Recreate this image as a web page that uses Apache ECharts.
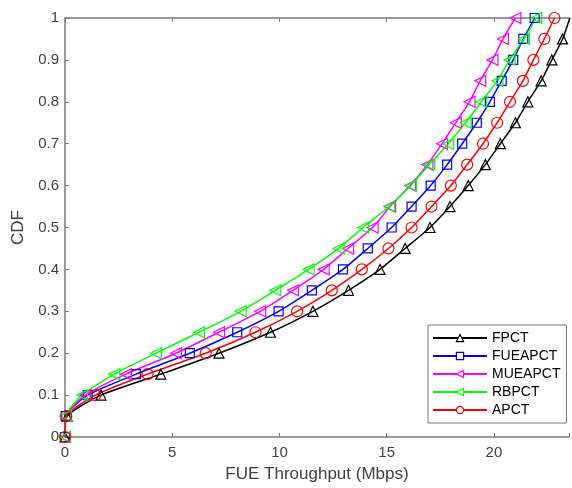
<!DOCTYPE html>
<html>
<head>
<meta charset="utf-8">
<script src="https://cdn.jsdelivr.net/npm/echarts@6/dist/echarts.min.js"></script>
<style>
  html, body { margin: 0; padding: 0; background: #fff; }
  #chart { width: 572px; height: 488px; }
</style>
</head>
<body>
<div id="chart"></div>
<script>
// CDF levels shared by every curve
var cdf = [0, 0.05, 0.1, 0.15, 0.2, 0.25, 0.3, 0.35, 0.4, 0.45, 0.5,
           0.55, 0.6, 0.65, 0.7, 0.75, 0.8, 0.85, 0.9, 0.95, 1];

// throughput (Mbps) for each CDF level
var fpct    = [0, 0.1, 1.68, 4.47, 7.18, 9.58, 11.56, 13.22, 14.69, 15.86, 17.02,
               17.95, 18.8, 19.6, 20.3, 21.0, 21.58, 22.2, 22.7, 23.2, 23.54];
var fueapct = [0, 0.03, 1.06, 3.31, 5.82, 8.03, 9.96, 11.51, 12.96, 14.12, 15.23,
               16.16, 17.05, 17.82, 18.52, 19.2, 19.81, 20.36, 20.9, 21.37, 21.9];
var mueapct = [0, 0.03, 0.95, 2.84, 5.17, 7.18, 9.1, 10.63, 12.06, 13.2, 14.34,
               15.16, 16.09, 16.9, 17.58, 18.22, 18.86, 19.36, 19.93, 20.42, 21.0];
var rbpct   = [0, 0.03, 0.8, 2.3, 4.24, 6.25, 8.19, 9.81, 11.36, 12.76, 13.9,
               15.11, 16.13, 16.98, 17.87, 18.68, 19.41, 20.16, 20.73, 21.4, 21.97];
var apct    = [0, 0.06, 1.42, 3.85, 6.56, 8.88, 10.82, 12.44, 13.84, 15.08, 16.16,
               17.09, 17.99, 18.75, 19.49, 20.15, 20.75, 21.35, 21.84, 22.35, 22.82];

var xTicks = [0, 5, 10, 15, 20];

function pairs(xs) {
    var out = [];
    for (var i = 0; i < xs.length; i++) {
        out.push([xs[i], cdf[i]]);
    }
    return out;
}

function makeSeries(name, xs, color, symbol, size, rotate) {
    return {
        name: name,
        type: 'line',
        data: pairs(xs),
        smooth: 0.2,
        symbol: symbol,
        symbolSize: size,
        symbolRotate: rotate || 0,
        showAllSymbol: true,
        lineStyle: { color: color, width: 1.5 },
        itemStyle: { color: 'rgba(255,255,255,0)', borderColor: color, borderWidth: 1.2 },
        emphasis: { disabled: true }
    };
}

var axisGrey = '#7a7a7a';
var labelGrey = '#404040';
var font = 'Liberation Sans, Arial, sans-serif';

var dom = document.getElementById('chart');
var myChart = echarts.init(dom);

var option = {
    animation: false,
    textStyle: { fontFamily: font },
    grid: { left: 65, right: 1, top: 18, bottom: 49, containLabel: false },
    legend: {
        orient: 'vertical',
        left: 428,
        top: 325,
        padding: [6, 6, 6, 4],
        itemWidth: 54,
        itemHeight: 9,
        itemGap: 4,
        backgroundColor: '#fff',
        borderColor: '#777',
        borderWidth: 1,
        itemStyle: { color: '#fff', borderWidth: 1.2 },
        textStyle: { fontSize: 14, lineHeight: 14, color: '#000', fontFamily: font },
        data: ['FPCT', 'FUEAPCT', 'MUEAPCT', 'RBPCT', 'APCT']
    },
    xAxis: [{
        type: 'value',
        min: 0,
        max: 23.5,
        interval: 5,
        name: 'FUE Throughput (Mbps)',
        nameLocation: 'middle',
        nameGap: 29,
        nameTextStyle: { fontSize: 17, color: labelGrey },
        axisLine: { lineStyle: { color: axisGrey, width: 1.5 } },
        axisTick: { inside: true, length: 4, lineStyle: { color: axisGrey } },
        axisLabel: {
            fontSize: 15, color: labelGrey, margin: 8,
            formatter: function (v) { return xTicks.indexOf(v) >= 0 ? String(v) : ''; }
        },
        splitLine: { show: false }
    }, {
        type: 'value',
        position: 'top',
        min: 0,
        max: 23.5,
        interval: 5,
        axisLine: { show: true, lineStyle: { color: axisGrey, width: 1.5 } },
        axisTick: { inside: true, length: 4, lineStyle: { color: axisGrey } },
        axisLabel: { show: false },
        splitLine: { show: false }
    }],
    yAxis: {
        type: 'value',
        min: 0,
        max: 1,
        interval: 0.1,
        name: 'CDF',
        nameLocation: 'middle',
        nameGap: 35,
        nameTextStyle: { fontSize: 17, color: labelGrey },
        axisLine: { show: true, lineStyle: { color: axisGrey, width: 1.5 } },
        axisTick: { show: true, inside: true, length: 4, lineStyle: { color: axisGrey } },
        axisLabel: {
            fontSize: 15, color: labelGrey, margin: 6,
            formatter: function (v) { return String(Math.round(v * 10) / 10); }
        },
        splitLine: { show: false }
    },
    series: [
        makeSeries('FPCT', fpct, '#000000', 'triangle', 10),
        makeSeries('FUEAPCT', fueapct, '#0000ff', 'rect', 9),
        makeSeries('MUEAPCT', mueapct, '#ff00ff', 'triangle', 11, 90),
        makeSeries('RBPCT', rbpct, '#00ff00', 'triangle', 11, 90),
        makeSeries('APCT', apct, '#ff0000', 'circle', 11)
    ]
};

if (option && typeof option === "object") {
    myChart.setOption(option, true);
}
window.addEventListener('resize', function () {
    myChart.resize();
});
</script>
</body>
</html>
